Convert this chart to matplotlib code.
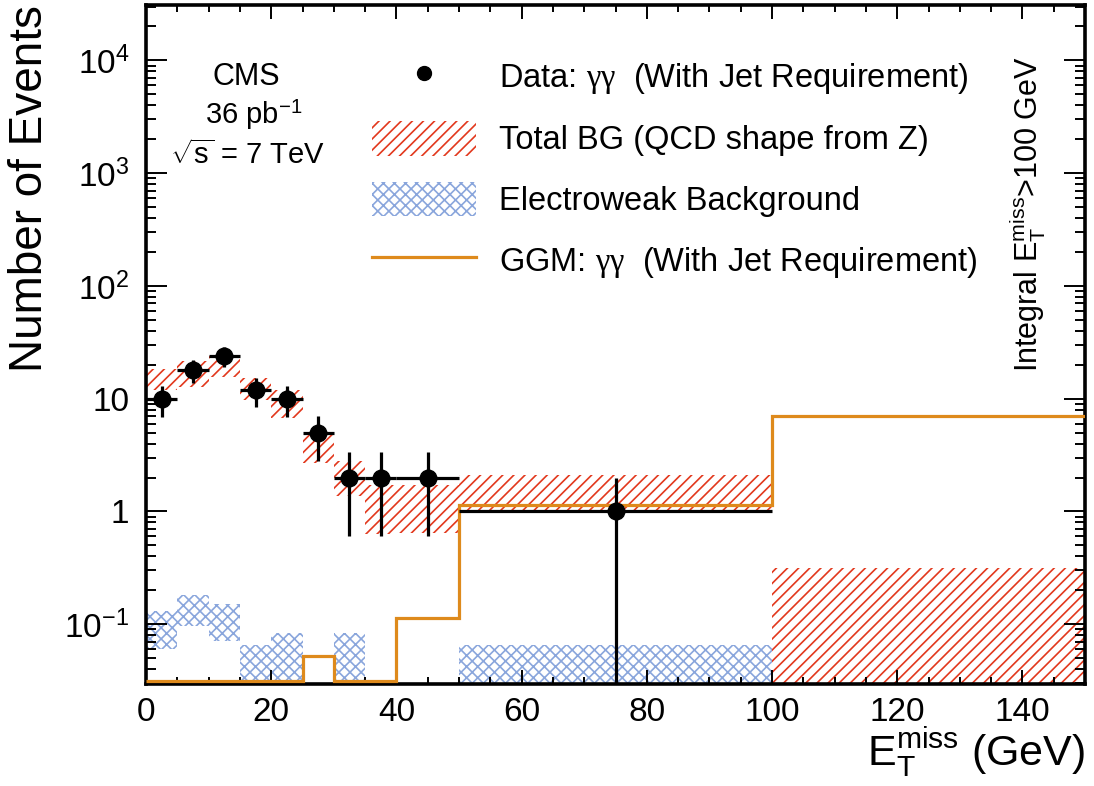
import numpy as np
import matplotlib
matplotlib.use("Agg")
import matplotlib.pyplot as plt
from matplotlib.lines import Line2D
from matplotlib.patches import Patch
from matplotlib.ticker import MultipleLocator, LogLocator, FuncFormatter, NullFormatter

plt.rcParams['font.family'] = ['Liberation Sans', 'DejaVu Sans']
plt.rcParams['mathtext.fontset'] = 'custom'
plt.rcParams['mathtext.rm'] = 'Liberation Sans'
plt.rcParams['mathtext.it'] = 'Liberation Serif'
plt.rcParams['mathtext.bf'] = 'Liberation Sans:bold'
plt.rcParams['hatch.linewidth'] = 1.2

# MET bins (GeV)
edges = [0, 5, 10, 15, 20, 25, 30, 35, 40, 50, 100, 150]

# data: gamma gamma with jet requirement
data_x = [2.5, 7.5, 12.5, 17.5, 22.5, 27.5, 32.5, 37.5, 45, 75]
data_xerr = [2.5, 2.5, 2.5, 2.5, 2.5, 2.5, 2.5, 2.5, 5, 25]
data_y = [10, 18, 24, 12, 10, 5, 2, 2, 2, 1]
data_err_lo = [3.1, 4.2, 4.9, 3.5, 3.1, 2.2, 1.4, 1.4, 1.4, 1.0]
data_err_hi = [2.9, 4.1, 4.9, 3.3, 2.9, 2.0, 1.4, 1.4, 1.4, 1.0]

# total background band per bin (0 = down to the axis)
bg_lo = [12.0, 12.8, 15.7, 9.7, 6.7, 2.7, 1.37, 0.63, 0.65, 0.97, 0]
bg_hi = [18.3, 21.4, 24.0, 15.2, 12.0, 4.9, 2.8, 1.7, 1.7, 2.1, 0.316]

# electroweak background band per bin
ew_lo = [0.060, 0.097, 0.071, 0, 0, 0, 0, 0, 0, 0, 0]
ew_hi = [0.131, 0.18, 0.150, 0.065, 0.083, 0, 0.083, 0, 0, 0.065, 0]

# GGM signal
ggm = [0, 0, 0, 0, 0, 0.052, 0, 0, 0.113, 1.13, 7.0]

red = '#e2381d'
blue = '#8aa6dc'
orange = '#de8a1c'
ymin, ymax = 0.0295, 3.1e4

edges = np.array(edges, dtype=float)
widths = np.diff(edges)
bg_lo = np.array(bg_lo); bg_hi = np.array(bg_hi)
ew_lo = np.array(ew_lo); ew_hi = np.array(ew_hi)
ggm = np.array(ggm)

fig = plt.figure(figsize=(10.94, 7.86), dpi=100)
ax = fig.add_axes([0.13346, 0.12977, 0.85832, 0.86387])
ax.set_yscale('log')

m = ew_hi > 0
ax.bar(edges[:-1][m], (ew_hi - ew_lo)[m], bottom=ew_lo[m], width=widths[m], align='edge',
       facecolor='none', edgecolor=blue, linewidth=0, hatch='xxx', zorder=1)
ax.bar(edges[:-1], bg_hi - bg_lo, bottom=bg_lo, width=widths, align='edge',
       facecolor='none', edgecolor=red, linewidth=0, hatch='///', zorder=1.5)

ax.stairs(np.where(ggm > 0, ggm, ymin * 1.06), edges, baseline=None,
          color=orange, linewidth=2.3, zorder=3)

ax.errorbar(data_x, data_y, xerr=data_xerr, yerr=[data_err_lo, data_err_hi],
            fmt='o', color='k', ms=12, elinewidth=2.3, capsize=0, zorder=5)

ax.set_xlim(0, 150)
ax.set_ylim(ymin, ymax)

ax.xaxis.set_major_locator(MultipleLocator(20))
ax.xaxis.set_minor_locator(MultipleLocator(5))
ax.yaxis.set_major_locator(LogLocator(base=10, numticks=20))
ax.yaxis.set_minor_locator(LogLocator(base=10, subs=np.arange(2, 10), numticks=20))
ax.yaxis.set_minor_formatter(NullFormatter())


def ylab(v, pos):
    if np.isclose(v, 1):
        return '1'
    if np.isclose(v, 10):
        return '10'
    return r'$\mathregular{10^{%d}}$' % int(round(np.log10(v)))


ax.yaxis.set_major_formatter(FuncFormatter(ylab))

ax.tick_params(which='both', direction='in', top=True, right=True, width=1.4)
ax.tick_params(axis='x', which='major', length=10, labelsize=24, pad=9)
ax.tick_params(axis='x', which='minor', length=5)
ax.tick_params(axis='y', which='major', length=15, labelsize=24, pad=12)
ax.tick_params(axis='y', which='minor', length=7)
for s in ax.spines.values():
    s.set_linewidth(2.6)

ax.set_ylabel('Number of Events', fontsize=33, loc='top')
ax.yaxis.set_label_coords(-0.1, 1.0)
ax.set_xlabel(r'$\mathrm{E_{T}^{miss}}$ (GeV)', fontsize=31, loc='right')
ax.xaxis.set_label_coords(1.0, -0.06)

ax.text(0.1065, 0.894, 'CMS', transform=ax.transAxes, fontsize=22, ha='center', va='center')
ax.text(0.115, 0.838, r'36 pb$^{\mathregular{-1}}$', transform=ax.transAxes, fontsize=21,
        ha='center', va='center')
ax.text(0.108, 0.779, r'$\sqrt{\mathrm{s}}$ = 7 TeV', transform=ax.transAxes, fontsize=21,
        ha='center', va='center')
ax.text(0.939, 0.692, r'Integral $\mathrm{E_{T}^{miss}}$>100 GeV', transform=ax.transAxes,
        fontsize=22, rotation=90, ha='center', va='center')

handles = [
    Line2D([], [], marker='o', ls='none', color='k', markersize=10),
    Patch(facecolor='none', edgecolor=red, linewidth=0, hatch='///'),
    Patch(facecolor='none', edgecolor=blue, linewidth=0, hatch='xxx'),
    Line2D([], [], color=orange, linewidth=2.3),
]
labels = [
    r'Data: $\gamma\gamma$  (With Jet Requirement)',
    'Total BG (QCD shape from Z)',
    'Electroweak Background',
    r'GGM: $\gamma\gamma$  (With Jet Requirement)',
]
ax.legend(handles, labels, loc='upper left', bbox_to_anchor=(0.2407, 0.921), frameon=False,
          fontsize=23.5, borderpad=0, borderaxespad=0, handlelength=3.2, handleheight=1.23,
          handletextpad=0.7, labelspacing=0.79)

fig.savefig('out.png', dpi=100)
